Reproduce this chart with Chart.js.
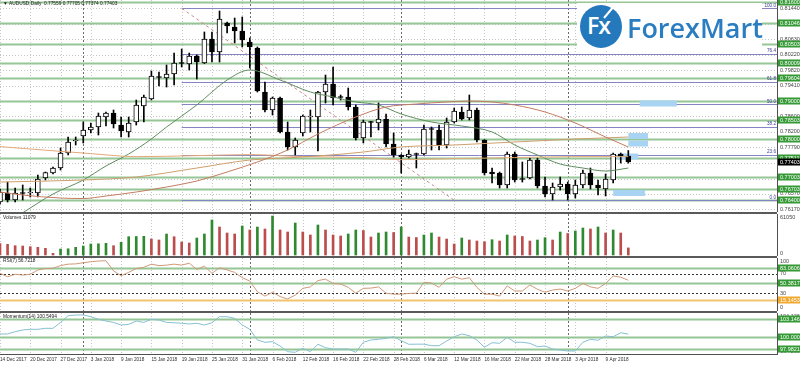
<!DOCTYPE html>
<html>
<head>
<meta charset="utf-8">
<title>AUDUSD Daily</title>
<script src="https://cdn.jsdelivr.net/npm/chart.js@4.4.1/dist/chart.umd.min.js"></script>
<style>
    body { margin: 0; background: #fff; }
    #chart { position: relative; width: 800px; height: 366px; overflow: hidden; background: #fff; }
    #chart canvas { position: absolute; left: 0; }
    .sep { position: absolute; left: 0; width: 777px; height: 2px; background: #5a5a5a; }
    #logo { position: absolute; left: 577px; top: 3px; width: 185px; height: 47px; background: #fff; }
    #logo .ring { position: absolute; left: 3px; top: 2px; width: 42px; height: 43px; border-radius: 50%; background: #2479bd; }
    #logo .fx { position: absolute; left: 7px; top: 7px; color: #fff; font: 600 23px/27px "Open Sans"; letter-spacing: -1px; }
    #logo .arrow { position: absolute; left: 24px; top: 12px; width: 16px; height: 2px; background: #fff; transform: rotate(-50deg); transform-origin: left center; }
    #logo .name { position: absolute; left: 50px; top: 11px; color: #2a7dc0; font: 600 27px/27px "Open Sans"; white-space: nowrap; }
</style>
</head>
<body>
<div id="chart">
    <canvas id="main" width="800" height="212" style="top:0px"></canvas>
    <div class="sep" style="top:212px"></div>
    <canvas id="vol" width="800" height="42" style="top:214px"></canvas>
    <div class="sep" style="top:256px"></div>
    <canvas id="rsi" width="800" height="53" style="top:258px"></canvas>
    <div class="sep" style="top:311px"></div>
    <canvas id="mom" width="800" height="53" style="top:313px"></canvas>
    <div id="logo">
        <div class="ring"><span class="fx">Fx</span><span class="arrow"></span></div>
        <div class="name">ForexMart</div>
    </div>
</div>
<script>
// ---- values (daily bars, 14 Dec 2017 .. 12 Apr 2018) ----
const opens = [0.76353, 0.76590, 0.76406, 0.76590, 0.76590, 0.76590, 0.76984, 0.77115, 0.77246, 0.77640,
    0.77955, 0.78086, 0.78244, 0.78323, 0.78585, 0.78690, 0.78375, 0.78192, 0.78454, 0.78874,
    0.79058, 0.79636, 0.79610, 0.79715, 0.80004, 0.79977, 0.80187, 0.80004, 0.80634, 0.80292,
    0.81054, 0.80949, 0.80844, 0.80555, 0.80397, 0.79242, 0.78769, 0.79084, 0.78192, 0.77798,
    0.78165, 0.78585, 0.78585, 0.79242, 0.79452, 0.79111, 0.79111, 0.78848, 0.78034, 0.78454,
    0.78428, 0.78533, 0.77876, 0.77588, 0.77535, 0.77614, 0.77614, 0.78270, 0.78244, 0.77850,
    0.78454, 0.78717, 0.78559, 0.78769, 0.77981, 0.77141, 0.77115, 0.76800, 0.77614, 0.76957,
    0.76984, 0.77456, 0.76773, 0.76563, 0.76747, 0.76826, 0.76563, 0.76800, 0.77115, 0.76800,
    0.76695, 0.76931, 0.77614, 0.77559];
const highs = [0.76695, 0.76878, 0.76721, 0.76800, 0.76721, 0.77062, 0.77141, 0.77272, 0.77771, 0.78060,
    0.78060, 0.78454, 0.78428, 0.78690, 0.78717, 0.78769, 0.78585, 0.78585, 0.79032, 0.79163,
    0.79793, 0.79767, 0.79951, 0.80266, 0.80371, 0.80266, 0.80214, 0.80818, 0.80818, 0.81369,
    0.81080, 0.81185, 0.81212, 0.80660, 0.80424, 0.79505, 0.79111, 0.79111, 0.78454, 0.78034,
    0.78638, 0.78769, 0.79260, 0.79688, 0.79899, 0.79163, 0.79347, 0.78901, 0.78507, 0.78470,
    0.78953, 0.78664, 0.78165, 0.77600, 0.77719, 0.77640, 0.78375, 0.78323, 0.78375, 0.78559,
    0.78822, 0.78848, 0.79163, 0.78822, 0.77990, 0.77246, 0.77141, 0.77666, 0.77666, 0.77404,
    0.77509, 0.77509, 0.77010, 0.76852, 0.77010, 0.76878, 0.76931, 0.77194, 0.77246, 0.76931,
    0.77089, 0.77640, 0.77640, 0.77705];
const lows = [0.76301, 0.76353, 0.76353, 0.76406, 0.76485, 0.76485, 0.76931, 0.77089, 0.77194, 0.77588,
    0.77850, 0.77903, 0.78165, 0.78113, 0.78349, 0.78297, 0.78060, 0.78060, 0.78375, 0.78454,
    0.79032, 0.79400, 0.79373, 0.79426, 0.79899, 0.79820, 0.79583, 0.79990, 0.80030, 0.80030,
    0.80791, 0.80529, 0.80424, 0.79872, 0.79242, 0.78717, 0.78638, 0.78165, 0.77719, 0.77588,
    0.78086, 0.78192, 0.77693, 0.78953, 0.78901, 0.79032, 0.78769, 0.77981, 0.77903, 0.78060,
    0.78244, 0.77798, 0.77535, 0.77115, 0.77509, 0.77246, 0.77588, 0.77719, 0.77719, 0.77771,
    0.78428, 0.78507, 0.78507, 0.77929, 0.77062, 0.76852, 0.76721, 0.76721, 0.76878, 0.76878,
    0.76957, 0.76721, 0.76485, 0.76406, 0.76668, 0.76406, 0.76458, 0.76721, 0.76695, 0.76537,
    0.76511, 0.76852, 0.77377, 0.77374];
const closes = [0.76616, 0.76406, 0.76590, 0.76576, 0.76603, 0.76957, 0.77128, 0.77246, 0.77640, 0.77929,
    0.77968, 0.78244, 0.78323, 0.78612, 0.78690, 0.78402, 0.78218, 0.78428, 0.78901, 0.79111,
    0.79662, 0.79623, 0.79715, 0.80004, 0.79990, 0.80187, 0.80030, 0.80634, 0.80292, 0.81159,
    0.80975, 0.80844, 0.80608, 0.80424, 0.79268, 0.78769, 0.79084, 0.78192, 0.77798, 0.77981,
    0.78612, 0.78595, 0.79242, 0.79452, 0.79084, 0.79098, 0.78848, 0.78034, 0.78454, 0.78441,
    0.78533, 0.77876, 0.77588, 0.77535, 0.77614, 0.77601, 0.78270, 0.78257, 0.77850, 0.78454,
    0.78743, 0.78533, 0.78769, 0.77981, 0.77115, 0.77089, 0.76800, 0.77614, 0.76931, 0.76944,
    0.77456, 0.76773, 0.76563, 0.76747, 0.76826, 0.76563, 0.76800, 0.77115, 0.76800, 0.76721,
    0.76957, 0.77614, 0.77559, 0.77403];

const volumes = [18000, 16746, 14555, 14085, 12990, 12051, 10486, 2661, 9390, 9703,
    12051, 14085, 17215, 17528, 18311, 14555, 19876, 28640, 28953, 29266,
    25040, 23475, 32865, 28640, 20345, 18780, 26605, 32865, 54775, 43820,
    34430, 32865, 45385, 39125, 43820, 40690, 61050, 39125, 35995, 50080,
    35995, 31300, 46950, 39125, 31300, 29735, 32865, 39125, 38343, 28170,
    34430, 35995, 35213, 43820, 28170, 27388, 31300, 34430, 28170, 25040,
    17215, 26605, 23475, 21910, 20815, 23945, 21910, 31300, 29735, 28953,
    21910, 23475, 27075, 23475, 35995, 33648, 37560, 42255, 40690, 43820,
    34430, 39125, 34430, 11079];

const rsi = [71, 64, 69, 67.5, 69, 78, 81, 81.5, 87, 90,
    90.5, 93, 95, 96.5, 97, 76, 66, 73, 81, 83.5,
    90, 87, 88, 90, 88, 92, 79, 86, 71, 82.6,
    78, 73, 62, 55, 33, 24, 32, 23, 18, 26,
    40, 43, 56, 59, 50, 49, 42, 30, 40, 40.5,
    43, 30, 28, 28, 29.5, 30, 52.5, 51, 42, 59,
    64, 59, 62, 42, 28, 28, 24, 45, 34.5, 34.5,
    47, 38, 32, 36.5, 38.5, 34.5, 40, 50, 43, 40,
    50, 65.5, 63, 56.7218];

const momentum = [100.58, 100.58, 100.98, 101.28, 101.4, 101.4, 101.57, 101.57, 102.6, 103.78,
    103.9, 103.9, 103.6, 103.15, 102.85, 102.6, 102.15, 102.27, 102.85, 102.6,
    103.15, 103.02, 102.6, 102.55, 102.45, 102.33, 102.45, 102.15, 102.55, 103.6,
    103.6, 103.32, 102.15, 101.4, 99.53, 99.13, 99.23, 98.48, 97.48, 97.38,
    98.08, 97.48, 98.78, 98.18, 97.95, 97.95, 97.95, 97.38, 99.13, 99.53,
    99.65, 99.83, 100.1, 99.41, 98.78, 98.8, 98.8, 98.53, 98.53, 99.35,
    100.1, 100.58, 100.28, 99.53, 98.25, 99.06, 98.95, 100.0, 99.13, 99.13,
    98.95, 98.36, 98.48, 97.95, 97.78, 97.6, 97.6, 99.13, 99.65, 99.48,
    100.23, 100.1, 100.8, 100.5494];

// moving averages, [bar, price] read at intervals along each curve
const maGreen = [[3, 0.76070], [7, 0.76563], [11, 0.76931], [14, 0.77299], [17, 0.77614], [20, 0.78008],
    [22, 0.78323], [26, 0.78901], [30, 0.79557], [33, 0.79820], [37, 0.79557], [41, 0.79242],
    [44, 0.79111], [47, 0.78980], [50, 0.78901], [53, 0.78664], [57, 0.78454], [61, 0.78349],
    [65, 0.78192], [68, 0.77850], [71, 0.77588], [74, 0.77351], [77, 0.77246], [80, 0.77167], [83, 0.77246]];
const maOrange = [[0, 0.77808], [12, 0.77624], [18, 0.77545], [26, 0.77571], [33, 0.77598], [40, 0.77545],
    [48, 0.77519], [53, 0.77466], [60, 0.77493], [68, 0.77519], [76, 0.77545], [83, 0.77545]];
const maTan = [[0, 0.76878], [11, 0.76931], [18, 0.77010], [26, 0.77246], [33, 0.77456], [40, 0.77535],
    [48, 0.77666], [53, 0.77798], [60, 0.77850], [68, 0.77929], [76, 0.78008], [83, 0.78060]];
const maBrown = [[0, 0.76616], [3, 0.76537], [8, 0.76458], [11, 0.76445], [14, 0.76511], [18, 0.76616],
    [22, 0.76747], [26, 0.76905], [30, 0.77141], [34, 0.77404], [38, 0.77719], [42, 0.78139],
    [47, 0.78585], [51, 0.78848], [55, 0.78927], [59, 0.78980], [62, 0.79006], [65, 0.78980],
    [68, 0.78901], [72, 0.78717], [76, 0.78428], [80, 0.78060], [83, 0.77798]];

// horizontal levels and scale labels
const priceTicks = [0.81440, 0.81030, 0.80630, 0.80220, 0.79820, 0.79410, 0.79000, 0.78600,
    0.78200, 0.77790, 0.77380, 0.76970, 0.76570, 0.76170];
const levelPrices = [0.81600, 0.81046, 0.80503, 0.80009, 0.79604, 0.79000, 0.78503, 0.78000,
    0.77511, 0.77003, 0.76703, 0.76400];
const lastPrice = 0.77403;
const fiboHigh = 0.81440;
const fiboLow = 0.76400;
const fiboStartBar = 24;
const fiboEndBar = 60;
const fiboLevels = [100, 76.4, 61.8, 50, 38.2, 23.6, 0];
const noteBoxes = [[84.5, 89.4, 0.78940], [83.0, 85.6, 0.78086], [83.0, 85.6, 0.77890],
    [81.6, 84.3, 0.77548], [81.0, 85.2, 0.76590]];

const rsiGreenLevels = [83.0606, 50.3817];
const rsiOrangeLevel = 15.1453;
const rsiDotted = [70, 30];
const rsiTicks = [100, 70, 30, 0];
const momLevels = [103.1460, 100.0000, 97.9821];
const momTicks = [104.1262, 96.7269];
const volTicks = [61050, 0];

const dateLabels = ["14 Dec 2017", "20 Dec 2017", "27 Dec 2017", "3 Jan 2018", "9 Jan 2018",
    "15 Jan 2018", "19 Jan 2018", "25 Jan 2018", "31 Jan 2018", "6 Feb 2018", "12 Feb 2018",
    "16 Feb 2018", "22 Feb 2018", "28 Feb 2018", "6 Mar 2018", "12 Mar 2018", "16 Mar 2018",
    "22 Mar 2018", "28 Mar 2018", "3 Apr 2018", "9 Apr 2018"];
const barsPerLabel = 4;
const monthStarts = [11, 33, 53, 75];

const titleText = "\u25BC AUDUSD,Daily  0.77559 0.77705 0.77374 0.77403";

// ---- layout ----
const W = 800;
const PLOT_RIGHT = 777;
const XMAX = PLOT_RIGHT / 7.57;
const FONT = '"Liberation Sans", Arial, sans-serif';
const GREEN_LINE = "#96c596";
const GREEN_BOX = "#359a35";

Chart.defaults.font.family = FONT;

const bars = opens.map((_, i) => i);
const gridBars = dateLabels.map((_, k) => k * barsPerLabel);

const hline = (ctx, x0, x1, y) => {
    y = Math.round(y) + 0.5;
    ctx.beginPath(); ctx.moveTo(x0, y); ctx.lineTo(x1, y); ctx.stroke();
};
const vline = (ctx, x, y0, y1) => {
    x = Math.round(x) + 0.5;
    ctx.beginPath(); ctx.moveTo(x, y0); ctx.lineTo(x, y1); ctx.stroke();
};
const clamp = (v, a, b) => Math.min(Math.max(v, a), b);

// draws grid, levels, right scale labels and the pane caption
const makePanePlugin = (cfg) => ({
    id: "pane_" + cfg.name,
    beforeDatasetsDraw(chart) {
        const { ctx, chartArea: a, scales: { x, y } } = chart;
        ctx.save();
        ctx.beginPath();
        ctx.rect(a.left, a.top, a.right - a.left, a.bottom - a.top);
        ctx.clip();
        ctx.lineWidth = 1;
        ctx.strokeStyle = "#c6c6c6";
        ctx.setLineDash([1, 2]);
        gridBars.forEach(b => vline(ctx, x.getPixelForValue(b), a.top, a.bottom));
        (cfg.gridValues || []).forEach(v => hline(ctx, a.left, a.right, y.getPixelForValue(v)));
        ctx.strokeStyle = "#6a6a6a";
        ctx.setLineDash([2, 2]);
        monthStarts.forEach(b => vline(ctx, x.getPixelForValue(b), a.top, a.bottom));
        (cfg.levels || []).forEach(l => {
            ctx.strokeStyle = l.color;
            ctx.lineWidth = l.width || 1;
            ctx.setLineDash(l.dash || []);
            const x0 = l.fromBar !== undefined ? x.getPixelForValue(l.fromBar) : a.left;
            hline(ctx, x0, a.right, y.getPixelForValue(l.value));
        });
        if (cfg.extra) cfg.extra(chart);
        ctx.restore();
    },
    afterDraw(chart) {
        const { ctx, chartArea: a, scales: { y } } = chart;
        ctx.save();
        ctx.font = "5.5px " + FONT;
        ctx.textBaseline = "middle";
        ctx.textAlign = "left";
        (cfg.axisText || []).forEach(t => {
            const py = clamp(y.getPixelForValue(t.value), a.top + 3, a.bottom - 3);
            ctx.fillStyle = "#454545";
            ctx.fillText(t.text, a.right + 3, py);
        });
        (cfg.axisBoxes || []).forEach(t => {
            const py = Math.round(y.getPixelForValue(t.value));
            ctx.fillStyle = t.fill;
            ctx.fillRect(a.right + 1, py - 3.5, W - a.right - 1, 7);
            ctx.fillStyle = t.color || "#ffffff";
            ctx.fillText(t.text, a.right + 3, py + 0.5);
        });
        if (cfg.caption) {
            ctx.font = "4.8px " + FONT;
            ctx.fillStyle = "#202020";
            ctx.textBaseline = "top";
            ctx.fillText(cfg.caption, 3, a.top + cfg.captionTop);
        }
        ctx.restore();
    }
});

const paneOptions = (yMin, yMax, showDates) => ({
    responsive: false,
    animation: false,
    events: [],
    layout: { padding: 0 },
    plugins: { legend: { display: false }, tooltip: { enabled: false } },
    scales: {
        x: {
            type: "linear", min: 0, max: XMAX, offset: false,
            display: showDates,
            grid: { display: false, drawTicks: false },
            border: { display: true, color: "#505050" },
            afterBuildTicks: s => { s.ticks = gridBars.map(v => ({ value: v })); },
            afterFit: s => { s.height = showDates ? 12 : 0; },
            ticks: {
                align: "start", padding: 0, maxRotation: 0, autoSkip: false,
                color: "#303030", font: { size: 4.7, lineHeight: 2.55 },
                callback: (v, k) => dateLabels[k]
            }
        },
        y: {
            position: "right", min: yMin, max: yMax,
            grid: { display: false },
            ticks: { display: false },
            border: { display: true, color: "#505050" },
            afterFit: s => { s.width = W - PLOT_RIGHT; }
        }
    }
});

const maSet = (points, color) => ({
    type: "line",
    data: points.map(p => ({ x: p[0], y: p[1] })),
    borderColor: color, borderWidth: 1, pointRadius: 0,
    cubicInterpolationMode: "monotone", order: 0
});

// ---- main price pane ----
const fiboPrice = lv => fiboLow + (fiboHigh - fiboLow) * lv / 100;

new Chart(document.getElementById("main"), {
    type: "bar",
    data: {
        datasets: [
            maSet(maBrown, "#c47c62"),
            maSet(maTan, "#cf9f6c"),
            maSet(maOrange, "#e3a877"),
            maSet(maGreen, "#5e8d5e"),
            {
                data: bars.map(i => ({ x: i, y: [opens[i], closes[i]] })),
                backgroundColor: bars.map(i => closes[i] > opens[i] + 0.00004 ? "#ffffff" : "#000000"),
                borderColor: "#000000", borderWidth: 1, borderSkipped: false,
                barThickness: 5, minBarLength: 1, grouped: false, order: 1
            },
            {
                data: bars.map(i => ({ x: i, y: [lows[i], highs[i]] })),
                backgroundColor: "#000000", barThickness: 1, grouped: false, order: 2
            }
        ]
    },
    options: paneOptions(0.76091, 0.81658, false),
    plugins: [makePanePlugin({
        name: "main",
        gridValues: priceTicks,
        levels: [
            ...levelPrices.map(v => ({ value: v, color: GREEN_LINE, width: 2 })),
            ...fiboLevels.map(lv => ({ value: fiboPrice(lv), color: "#8585c4", width: 1, fromBar: fiboStartBar }))
        ],
        extra: chart => {
            const { ctx, chartArea: a, scales: { x, y } } = chart;
            ctx.strokeStyle = "#c88a8a";
            ctx.lineWidth = 1;
            ctx.setLineDash([3, 3]);
            ctx.beginPath();
            ctx.moveTo(x.getPixelForValue(fiboStartBar), y.getPixelForValue(fiboHigh));
            ctx.lineTo(x.getPixelForValue(fiboEndBar), y.getPixelForValue(fiboLow));
            ctx.stroke();
            ctx.setLineDash([]);
            ctx.font = "4.6px " + FONT;
            ctx.fillStyle = "#3b3b96";
            ctx.textAlign = "right";
            ctx.textBaseline = "bottom";
            fiboLevels.forEach(lv => ctx.fillText(lv.toFixed(1), a.right - 1, y.getPixelForValue(fiboPrice(lv)) - 0.5));
            ctx.fillStyle = "#a9d3f3";
            noteBoxes.forEach(b => {
                const x0 = x.getPixelForValue(b[0]);
                const py = y.getPixelForValue(b[2]);
                ctx.fillRect(x0, py - 3, x.getPixelForValue(b[1]) - x0, 6);
            });
        },
        axisText: priceTicks.map(v => ({ value: v, text: v.toFixed(5) })),
        axisBoxes: [
            ...levelPrices.map(v => ({ value: v, text: v.toFixed(5), fill: GREEN_BOX })),
            { value: lastPrice, text: lastPrice.toFixed(5), fill: "#000000" }
        ],
        caption: titleText,
        captionTop: 1.5
    })]
});

// ---- volume pane ----
new Chart(document.getElementById("vol"), {
    type: "bar",
    data: {
        datasets: [{
            data: bars.map(i => ({ x: i, y: volumes[i] })),
            backgroundColor: bars.map(i => (i > 0 && volumes[i] > volumes[i - 1]) ? "#2f8a2f" : "#bb4d4d"),
            barThickness: 2, grouped: false
        }]
    },
    options: paneOptions(-1565, 64180, false),
    plugins: [makePanePlugin({
        name: "vol",
        axisText: volTicks.map(v => ({ value: v, text: String(v) })),
        caption: "Volumes " + volumes[volumes.length - 1],
        captionTop: 1
    })]
});

// ---- RSI pane ----
new Chart(document.getElementById("rsi"), {
    type: "line",
    data: {
        datasets: [{
            data: bars.map(i => ({ x: i, y: rsi[i] })),
            borderColor: "#cf9a78", borderWidth: 1, pointRadius: 0, tension: 0
        }]
    },
    options: paneOptions(-6.82, 102.7, false),
    plugins: [makePanePlugin({
        name: "rsi",
        levels: [
            ...rsiGreenLevels.map(v => ({ value: v, color: GREEN_LINE, width: 2 })),
            { value: rsiOrangeLevel, color: "#f2c46e", width: 2 },
            ...rsiDotted.map(v => ({ value: v, color: "#333333", width: 1, dash: [2, 2] }))
        ],
        axisText: rsiTicks.map(v => ({ value: v, text: String(v) })),
        axisBoxes: [
            ...rsiGreenLevels.map(v => ({ value: v, text: v.toFixed(4), fill: GREEN_BOX })),
            { value: rsiOrangeLevel, text: rsiOrangeLevel.toFixed(4), fill: "#f0a830" }
        ],
        caption: "RSI(7) " + rsi[rsi.length - 1].toFixed(4),
        captionTop: 0.5
    })]
});

// ---- Momentum pane with the date axis ----
new Chart(document.getElementById("mom"), {
    type: "line",
    data: {
        datasets: [{
            data: bars.map(i => ({ x: i, y: momentum[i] })),
            borderColor: "#86bfd2", borderWidth: 1, pointRadius: 0, tension: 0
        }]
    },
    options: paneOptions(97.08, 104.25, true),
    plugins: [makePanePlugin({
        name: "mom",
        levels: momLevels.map(v => ({ value: v, color: GREEN_LINE, width: 2 })),
        axisText: [{ value: 104.25, text: momTicks[0].toFixed(4) }, { value: 97.08, text: momTicks[1].toFixed(4) }],
        axisBoxes: momLevels.map(v => ({ value: v, text: v.toFixed(4), fill: GREEN_BOX })),
        caption: "Momentum(14) " + momentum[momentum.length - 1].toFixed(4),
        captionTop: 1.5
    })]
});
</script>
</body>
</html>
